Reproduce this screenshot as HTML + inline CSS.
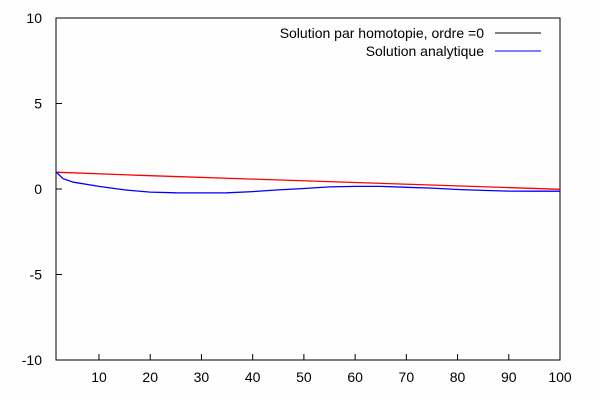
<!DOCTYPE html>
<html><head><meta charset="utf-8"><style>
body{margin:0;background:#fff}
svg{display:block;font-family:"Liberation Sans",sans-serif;font-size:14px}
</style></head><body>
<svg id="c" width="600" height="400">
<rect width="600" height="400" fill="#fdfefd"/>
<g id="g"></g>
</svg>
<script>
const xTicks=[10,20,30,40,50,60,70,80,90,100];
const yTicks=[-10,-5,0,5,10];
const redX=[1,20,40,60,80,100];
const redY=[0.98,0.78,0.58,0.38,0.18,-0.02];
const blueX=[1,3,5,10,15,20,25,30,35,40,45,50,55,60,65,70,75,80,85,90,95,100];
const blueY=[1,0.6,0.4,0.15,-0.05,-0.18,-0.22,-0.23,-0.22,-0.15,-0.05,0.03,0.12,0.15,0.15,0.1,0.05,-0.03,-0.08,-0.12,-0.13,-0.13];
const L=56,R=560,T=18,B=360;
const sx=v=>99+(v-10)*(560-99)/90;
const sy=v=>189-v*(B-T)/20;
const g=document.getElementById('g');
const NS='http://www.w3.org/2000/svg';
function mk(t,a,p){const e=document.createElementNS(NS,t);for(const k in a)e.setAttribute(k,a[k]);(p||g).appendChild(e);return e;}
const frame=mk('rect',{x:L,y:T,width:R-L,height:B-T,fill:'none',stroke:'#000','stroke-width':1});


xTicks.forEach(v=>{const x=sx(v);
const t=mk('line',{x1:x,x2:x,y1:B,y2:B-6,stroke:'#000'});


const l=mk('text',{x:x,y:B+22,'text-anchor':'middle'});l.textContent=v;

});
yTicks.forEach(v=>{const y=sy(v);
const t=mk('line',{x1:L,x2:L+6,y1:y,y2:y,stroke:'#000'});


const l=mk('text',{x:L-14,y:y+5,'text-anchor':'end'});l.textContent=v;

});
function path(xs,ys){return xs.map((x,i)=>(i?'L':'M')+Math.max(L,sx(x)).toFixed(1)+','+sy(ys[i]).toFixed(1)).join('');}
const rl=mk('path',{d:path(redX,redY),fill:'none',stroke:'#f00','stroke-width':1.3});


const bl=mk('path',{d:path(blueX,blueY),fill:'none',stroke:'#00f','stroke-width':1.3});


const l1=mk('text',{x:484,y:38,'text-anchor':'end'});l1.textContent='Solution par homotopie, ordre =0';


const k1=mk('line',{x1:495,x2:541,y1:33,y2:33,stroke:'#000'});


const l2=mk('text',{x:484,y:56,'text-anchor':'end'});l2.textContent='Solution analytique';


const k2=mk('line',{x1:495,x2:541,y1:51,y2:51,stroke:'#00f'});


</script>
</body></html>
